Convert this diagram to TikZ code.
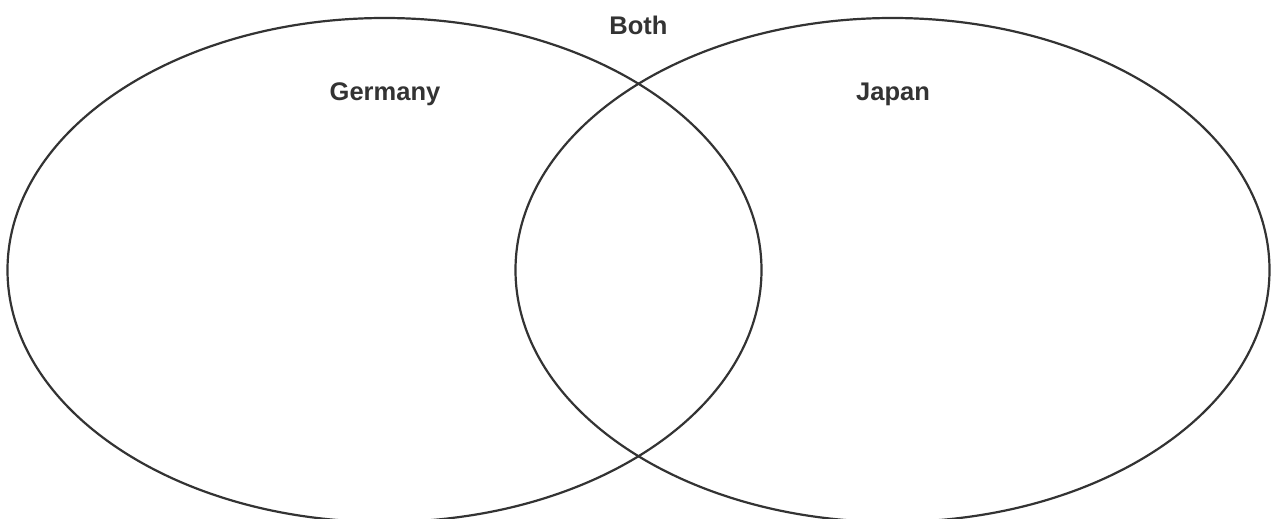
\documentclass[tikz,border=0pt]{standalone}
\usepackage{fontspec}
\setmainfont{Liberation Sans}
\usetikzlibrary{shapes.geometric}
\definecolor{ink}{HTML}{333333}
\begin{document}
\begin{tikzpicture}[x=1pt,y=-1pt,
  circ/.style={draw=ink,line width=2.2pt},
  lbl/.style={text=ink,font=\bfseries\fontsize{25.5}{28}\selectfont,inner sep=0pt}]
\useasboundingbox (0,0) rectangle (1275,519);
\clip (0,0) rectangle (1275,519);
\fill[white] (0,0) rectangle (1275,519);
\node[circ,ellipse,minimum width=754pt,minimum height=504pt,inner sep=0pt] (germanyset) at (384.5,270) {};
\node[circ,ellipse,minimum width=754pt,minimum height=504pt,inner sep=0pt] (japanset) at (892.5,270) {};
\node[lbl] (both) at (638.5,25) {Both};
\node[lbl] (germany) at (385,94) {Germany};
\node[lbl] (japan) at (893,94) {Japan};
\end{tikzpicture}
\end{document}
